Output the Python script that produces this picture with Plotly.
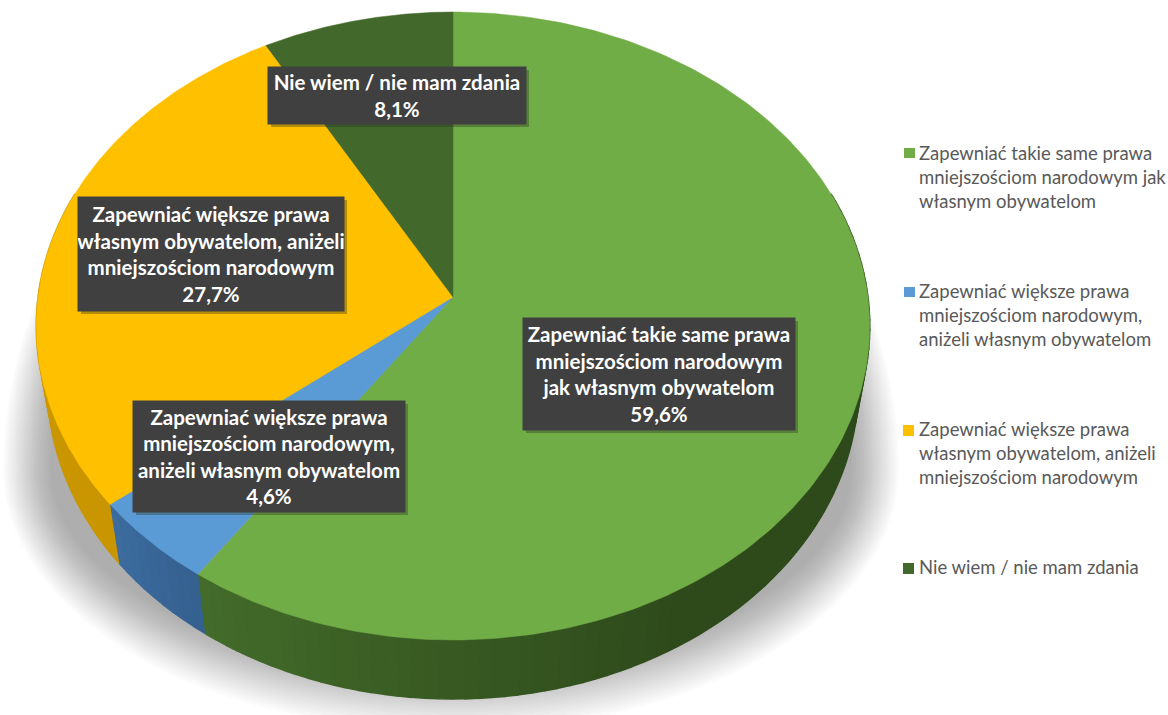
import numpy as np
import plotly.graph_objects as go

categories = ["Zapewniać takie same prawa mniejszościom narodowym jak własnym obywatelom",
              "Zapewniać większe prawa mniejszościom narodowym, aniżeli własnym obywatelom",
              "Zapewniać większe prawa własnym obywatelom, aniżeli mniejszościom narodowym",
              "Nie wiem / nie mam zdania"]
legend_names = ["Zapewniać takie same prawa<br>mniejszościom narodowym jak<br>własnym obywatelom",
                "Zapewniać większe prawa<br>mniejszościom narodowym,<br>aniżeli własnym obywatelom",
                "Zapewniać większe prawa<br>własnym obywatelom, aniżeli<br>mniejszościom narodowym",
                "Nie wiem / nie mam zdania"]
label_lines = ["Zapewniać takie same prawa<br>mniejszościom narodowym<br>jak własnym obywatelom",
               "Zapewniać większe prawa<br>mniejszościom narodowym,<br>aniżeli własnym obywatelom",
               "Zapewniać większe prawa<br>własnym obywatelom, aniżeli<br>mniejszościom narodowym",
               "Nie wiem / nie mam zdania"]
values = [59.6, 4.6, 27.7, 8.1]
top_colors = ["#70AD47", "#5B9BD5", "#FFC000", "#43682B"]
side_far = ["#2E4A1B", "#35608F", "#C99500", "#2E4A1B"]
side_near = ["#436B2A", "#3C6C9F", "#D19E00", "#2E4A1B"]
label_boxes = [(523, 795, 318, 430), (133, 405, 401, 512), (78, 344, 197, 311), (268, 526, 67, 124)]
key_boxes = [(904, 915, 148, 158), (904, 915, 287, 297), (903, 914, 425, 436), (903, 914, 563, 574)]

# projection of the round pie on to the page
AX, AY = 453, 297
A, B, P = 415, 311.3, 0.0924
DEPTH, SHRINK = 59, 0.973


def project(t):
    x, y = np.sin(t), np.cos(t)
    d = 1 + P * y
    return AX + A * x / d, AY - B * y / d


def mix(a, b, f):
    ca = [int(a[i:i + 2], 16) for i in (1, 3, 5)]
    cb = [int(b[i:i + 2], 16) for i in (1, 3, 5)]
    return "#%02x%02x%02x" % tuple(round(p + (q - p) * f) for p, q in zip(ca, cb))


fig = go.Figure()

# soft shadow
N = 30
for i in range(N):
    f = i / (N - 1)
    rx, low, up = 448 - 48 * f, 262 - 62 * f, 450 - 8 * f
    a = np.linspace(0, 2 * np.pi, 240)
    sx = 451 + rx * np.cos(a)
    sy = 470 + np.where(np.sin(a) > 0, low, up) * np.sin(a)
    fig.add_trace(go.Scatter(x=sx, y=sy, mode="lines", fill="toself", line=dict(width=0),
                             fillcolor="rgba(70,70,70,0.014)", hoverinfo="skip", showlegend=False))

edges = np.cumsum([0] + values) / sum(values) * 2 * np.pi

# side wall
for k in range(len(values)):
    lo, hi = max(edges[k], np.radians(70)), min(edges[k + 1], np.radians(290))
    if hi <= lo:
        continue
    n = max(2, int((hi - lo) / 0.03))
    cuts = np.linspace(lo, hi, n + 1)
    for j in range(n):
        tt = np.linspace(cuts[j], cuts[j + 1], 5)
        ux, uy = project(tt)
        bx = AX + SHRINK * (ux - AX)
        by = uy + DEPTH
        mid = (cuts[j] + cuts[j + 1]) / 2
        f = np.clip((mid - edges[k]) / max(edges[k + 1] - edges[k], 1e-6), 0, 1)
        if k == 0:
            f = np.clip((mid - np.radians(150)) / np.radians(64), 0, 1)
        c = mix(side_far[k], side_near[k], f)
        fig.add_trace(go.Scatter(x=np.r_[ux, bx[::-1]], y=np.r_[uy, by[::-1]], mode="lines", fill="toself",
                                 line=dict(width=1.5, color=c), fillcolor=c, hoverinfo="skip", showlegend=False))

# top face
for k, name in enumerate(categories):
    tt = np.linspace(edges[k], edges[k + 1], 240)
    ux, uy = project(tt)
    fig.add_trace(go.Scatter(x=np.r_[AX, ux, AX], y=np.r_[AY, uy, AY], mode="lines", fill="toself",
                             line=dict(width=0.5, color=top_colors[k]), fillcolor=top_colors[k],
                             name=name, text=f"{values[k]}%", hoverinfo="text+name", showlegend=False))

# legend entries (the coloured keys sit on the first line of each entry, as shapes below)
for k, name in enumerate(legend_names):
    fig.add_trace(go.Scatter(x=[None], y=[None], mode="markers", name=name, legendgroup=str(k),
                             marker=dict(symbol="square", size=1, color="rgba(0,0,0,0)")))

annotations, shapes = [], []
for k, (x0, x1, y0, y1) in enumerate(key_boxes):
    shapes.append(dict(type="rect", x0=x0, x1=x1, y0=y0, y1=y1, layer="above",
                       fillcolor=top_colors[k], line=dict(width=0)))
for k, (x0, x1, y0, y1) in enumerate(label_boxes):
    shapes.append(dict(type="rect", x0=x0 + 3, x1=x1 + 3, y0=y0 + 3, y1=y1 + 3, layer="above",
                       fillcolor="rgba(40,50,30,0.35)", line=dict(width=0)))
    pct = f"{values[k]:.1f}%".replace(".", ",")
    annotations.append(dict(x=(x0 + x1) / 2, y=(y0 + y1) / 2, xref="x", yref="y", showarrow=False,
                            text=f"<b>{label_lines[k]}<br>{pct}</b>", width=x1 - x0, height=y1 - y0,
                            align="center", valign="middle", bgcolor="#404040", borderpad=0,
                            font=dict(family="Lato", size=20.5, color="#FFFFFF")))

fig.update_layout(
    width=1168, height=715, margin=dict(l=0, r=0, t=0, b=0, autoexpand=False),
    paper_bgcolor="white", plot_bgcolor="white",
    xaxis=dict(range=[0, 1168], visible=False, fixedrange=True),
    yaxis=dict(range=[715, 0], visible=False, fixedrange=True),
    annotations=annotations, shapes=shapes,
    legend=dict(x=879 / 1168, y=1 - 134 / 715, xanchor="left", yanchor="top", bgcolor="rgba(0,0,0,0)",
                font=dict(family="Lato", size=18.5, color="#595959"), tracegroupgap=63,
                itemclick=False, itemdoubleclick=False),
)
fig.write_html("out.html", config=dict(displayModeBar=False),
               post_script="document.body.style.margin='0';document.body.style.overflow='hidden';")
